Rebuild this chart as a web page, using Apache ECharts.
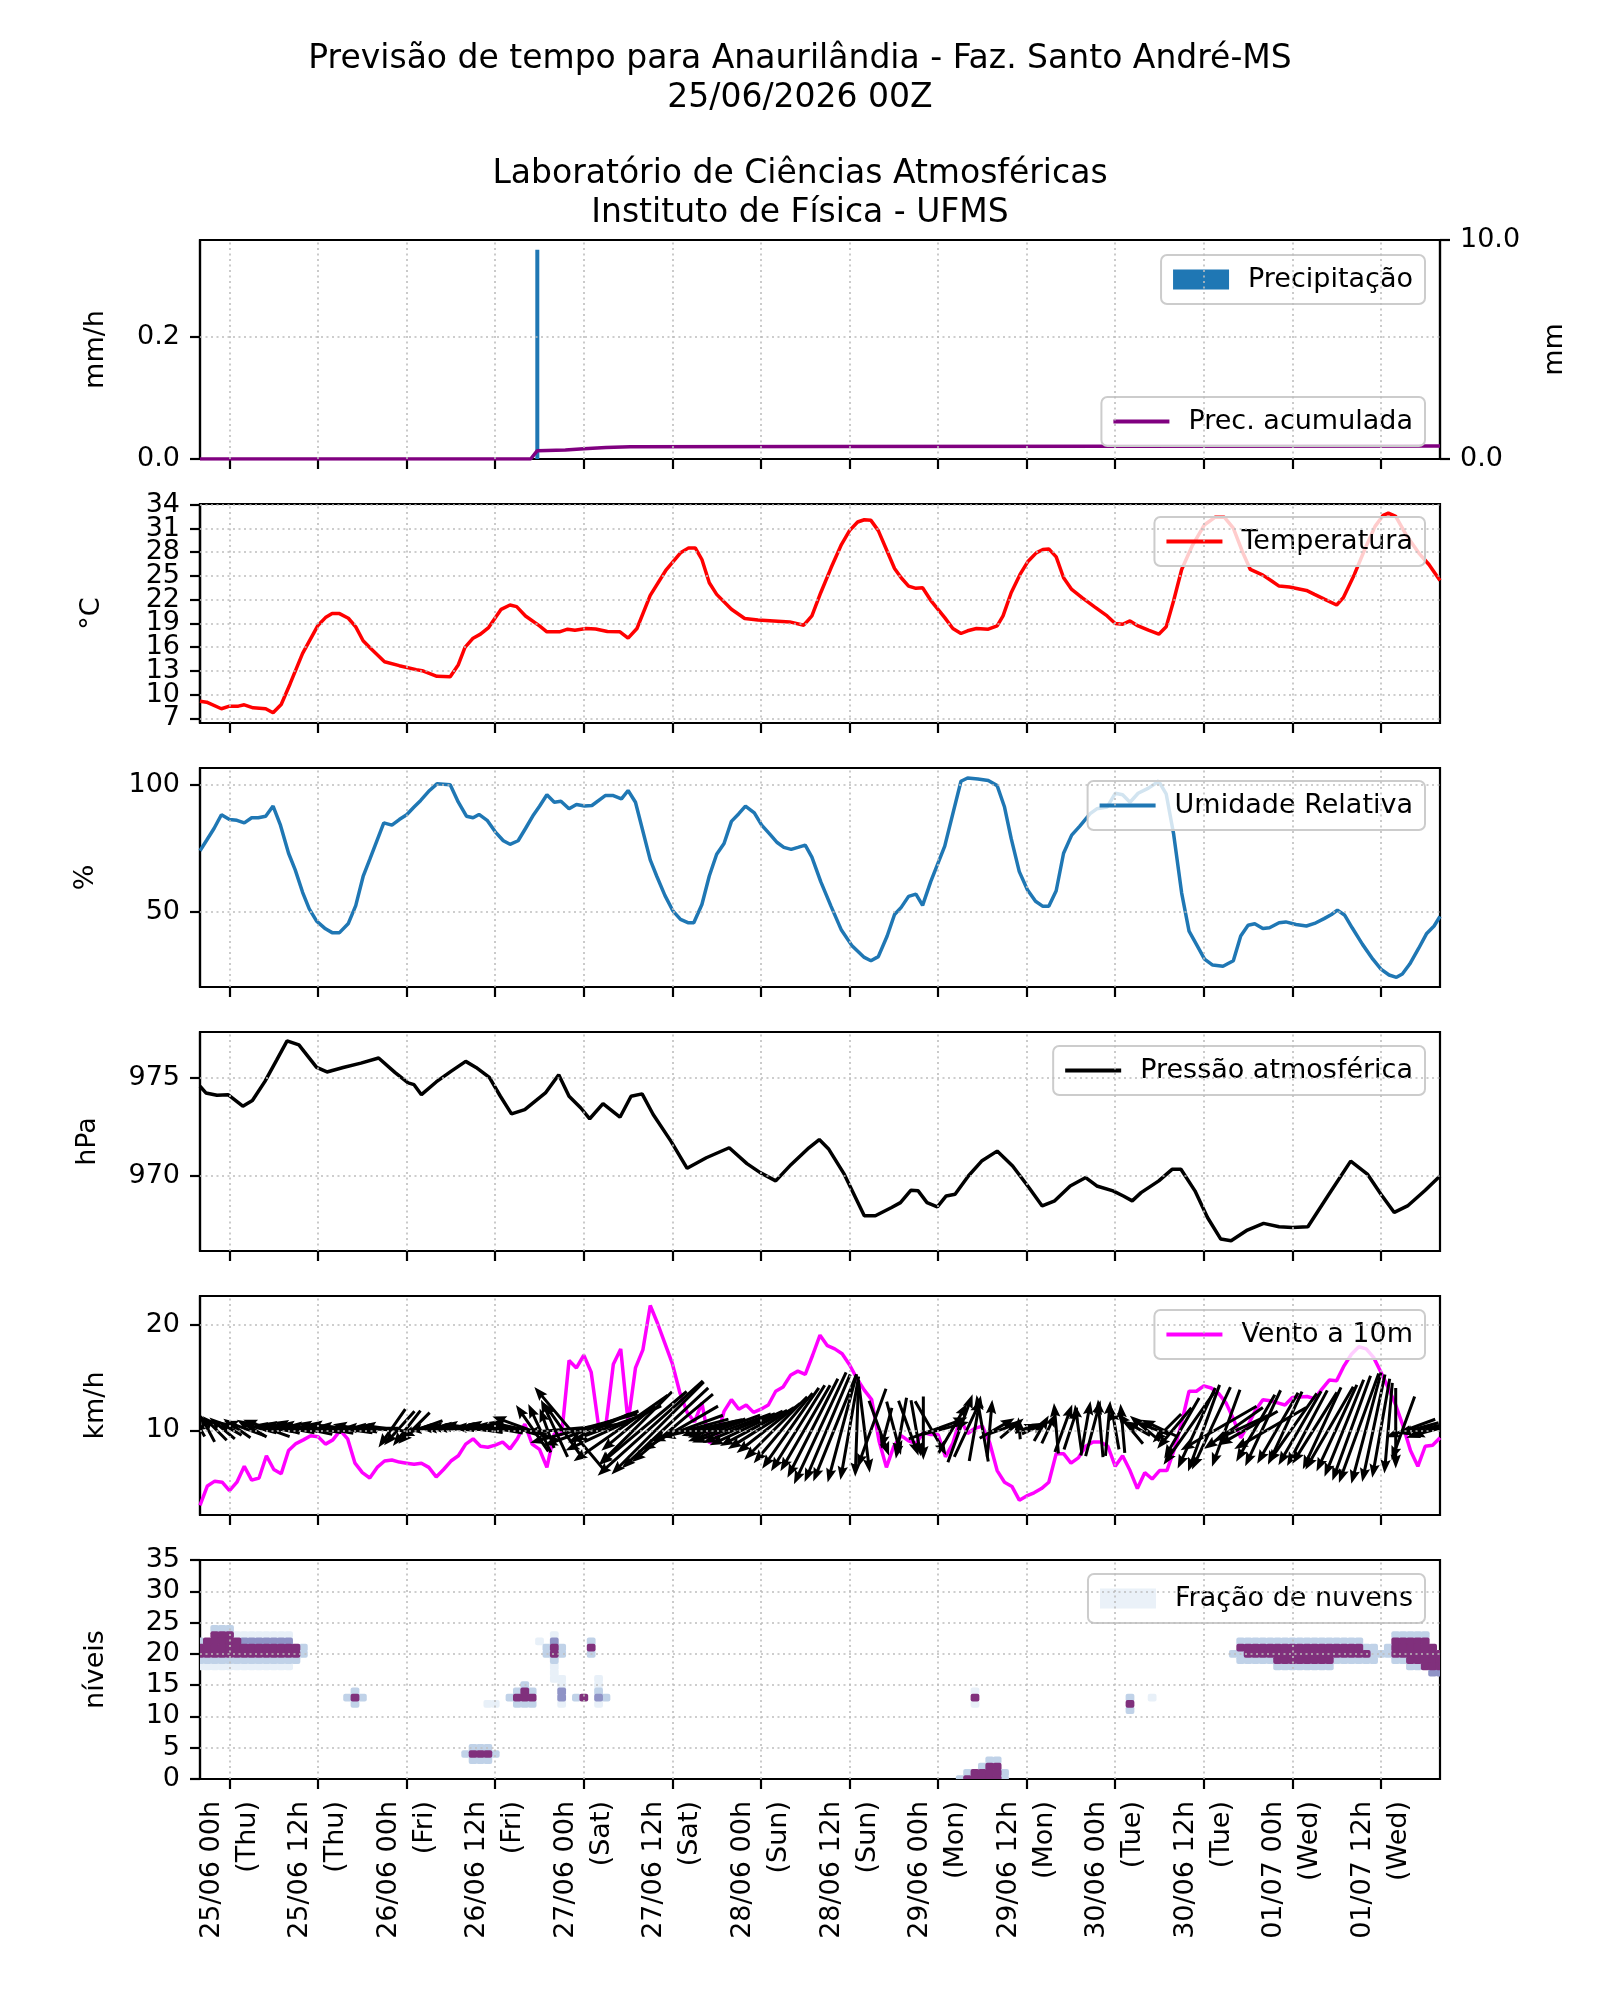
<!DOCTYPE html>
<html>
<head>
<meta charset="utf-8">
<script src="https://cdn.jsdelivr.net/npm/echarts@6/dist/echarts.min.js"></script>
<style>
  html, body { margin: 0; padding: 0; background: #fff; }
  #chart { width: 1600px; height: 2000px; }
</style>
</head>
<body>
<div id="chart"></div>
<script>
// meteograma - previsao 7 dias (horas contadas a partir de 25/06 00h)
const hourStart = -4
const hourEnd = 164

const tickHours = [0, 12, 24, 36, 48, 60, 72, 84, 96, 108, 120, 132, 144, 156]
const tickLabels = [
  '25/06 00h\n(Thu)', '25/06 12h\n(Thu)', '26/06 00h\n(Fri)', '26/06 12h\n(Fri)',
  '27/06 00h\n(Sat)', '27/06 12h\n(Sat)', '28/06 00h\n(Sun)', '28/06 12h\n(Sun)',
  '29/06 00h\n(Mon)', '29/06 12h\n(Mon)', '30/06 00h\n(Tue)', '30/06 12h\n(Tue)',
  '01/07 00h\n(Wed)', '01/07 12h\n(Wed)'
]
const tempTicks = [7, 10, 13, 16, 19, 22, 25, 28, 31, 34]

// precipitacao
const precipHours = [41.7]
const precipValues = [0.342]
const accumHours = [-4, 40.8, 41.7, 45.5, 48, 51, 54.3, 80, 120, 164]
const accumValues = [0, 0, 0.38, 0.41, 0.47, 0.52, 0.56, 0.57, 0.58, 0.59]

// temperatura
const tempHours = [-4, -3.1, -1.1, 0, 1.2, 2, 3.2, 4.9, 5.9, 7,
  8.2, 9.9, 12, 13, 13.9, 14.9, 16.1, 17.1, 18.1, 19,
  21, 23, 25.3, 26.1, 28.1, 29.9, 31, 31.9, 33, 34,
  35.1, 36.8, 38, 38.9, 40.1, 42, 43, 44.7, 45.8, 46.8,
  48.3, 49.6, 51.2, 52.9, 54, 55.2, 57, 59.1, 61.1, 62.2,
  63.1, 64, 65, 66, 68, 69.8, 71.6, 75.9, 77.8, 78.9,
  80.1, 81.5, 82.9, 84, 85.1, 86, 86.9, 87.9, 89.1, 90.1,
  91, 92, 93, 93.9, 95, 96.9, 98, 99.1, 100, 101.2,
  102.8, 104, 104.8, 105.9, 107.1, 108.2, 109.3, 110.2, 111, 112,
  113, 114.1, 115.5, 117.2, 118.9, 120, 121, 122, 123.1, 124.5,
  125.9, 126.9, 127.9, 129, 130.4, 132.1, 133.5, 134.8, 136, 137.2,
  138.3, 140, 141.1, 142.2, 143.6, 145.9, 147, 148.4, 150, 150.9,
  152.4, 153.8, 155.2, 156.3, 157, 158, 159.4, 161.1, 162.5, 164]
const tempValues = [9.16, 9.03, 8.2, 8.53, 8.53, 8.7, 8.32, 8.2, 7.7, 8.74,
  11.34, 15.2, 18.77, 19.73, 20.24, 20.24, 19.65, 18.56, 16.8, 15.96,
  14.15, 13.65, 13.15, 13.02, 12.31, 12.26, 13.78, 15.96, 17.13, 17.64,
  18.47, 20.78, 21.33, 21.12, 19.94, 18.68, 17.93, 17.93, 18.27, 18.14,
  18.35, 18.3, 17.97, 17.93, 17.13, 18.35, 22.55, 25.69, 27.92, 28.55,
  28.55, 27.08, 24.14, 22.67, 20.78, 19.61, 19.44, 19.19, 18.77, 19.94,
  22.88, 26.03, 28.97, 30.73, 31.82, 32.11, 32.03, 30.73, 28.13, 25.94,
  24.77, 23.72, 23.43, 23.51, 21.92, 19.73, 18.35, 17.72, 18.06, 18.35,
  18.27, 18.68, 19.94, 22.88, 25.19, 26.87, 27.92, 28.34, 28.42, 27.41,
  24.77, 23.3, 22.25, 21.08, 19.94, 18.98, 18.89, 19.31, 18.68, 18.14,
  17.64, 18.56, 21.83, 25.82, 28.76, 31.48, 32.41, 32.41, 31.06, 28.13,
  25.82, 25.1, 24.43, 23.72, 23.6, 23.17, 22.67, 22.04, 21.33, 22.25,
  25.19, 28.34, 31.27, 32.66, 32.95, 32.53, 30.22, 27.92, 26.45, 24.43]

// umidade relativa
const rhHours = [-4, -3.1, -2.1, -1.1, 0, 1, 2, 3, 3.9, 4.9,
  5.9, 6.9, 8, 8.9, 9.9, 10.8, 11.8, 13, 13.9, 14.9,
  16.1, 17.1, 18.1, 19, 20.9, 22, 23, 24, 25, 25.9,
  27.1, 28.1, 29.9, 31, 32.1, 33, 33.8, 34.9, 36, 37.1,
  38, 39.1, 40.1, 41.2, 42, 43, 44, 44.9, 46, 47,
  48.1, 49.1, 50.9, 52, 53.1, 54, 55, 57, 57.9, 59,
  60.1, 61.1, 62.1, 62.9, 64, 65, 66, 67, 68, 69,
  69.9, 71.1, 72.1, 73.2, 74.2, 75.1, 76.1, 77, 78, 78.9,
  80.1, 81.5, 82.9, 84.3, 86, 86.9, 87.9, 89.1, 90.1, 91,
  92, 93, 93.9, 95, 96.9, 98, 99.1, 100, 101.4, 102.8,
  104, 105, 105.9, 107, 108.1, 109.2, 110.2, 111, 112, 113,
  114.1, 115.2, 116.6, 117.5, 118.9, 120, 121, 122, 123.1, 124.5,
  125.9, 126.9, 127.9, 129, 130, 131, 132.1, 133.2, 134.6, 136,
  137, 138, 138.9, 140, 140.9, 142.2, 143.1, 144.5, 145.9, 147,
  148.3, 149.3, 150.1, 151.1, 152.1, 153.5, 154.9, 156, 157.1, 158.1,
  158.9, 159.9, 161.1, 162.2, 163.2, 164]
const rhValues = [74.1, 78.2, 82.8, 88.2, 86.3, 86.0, 85.0, 87.0, 87.0, 87.6,
  91.6, 84.1, 73.1, 66.6, 57.8, 51.3, 46.5, 43.5, 42.0, 42.0,
  45.6, 52.6, 64.0, 70.7, 85.0, 84.1, 86.3, 88.2, 91.2, 93.8,
  97.7, 100.3, 99.9, 93.1, 87.6, 87.0, 88.3, 86.0, 81.5, 78.0,
  76.6, 78.0, 82.8, 88.2, 91.5, 96.0, 93.1, 93.5, 90.5, 92.2,
  91.6, 91.8, 95.7, 95.7, 94.4, 97.7, 93.1, 70.5, 64.0, 56.5,
  50.4, 47.2, 45.9, 45.9, 53.0, 64.2, 72.7, 76.9, 85.6, 88.6,
  91.6, 88.9, 84.1, 80.6, 77.3, 75.4, 74.6, 75.4, 76.3, 71.6,
  62.0, 52.3, 43.0, 37.0, 32.3, 31.0, 32.6, 40.7, 49.1, 51.9,
  56.2, 57.1, 52.7, 62.0, 75.9, 88.6, 101.3, 102.6, 102.2, 101.6,
  99.6, 91.2, 78.9, 65.9, 58.8, 54.3, 52.3, 52.3, 58.4, 73.1,
  80.2, 83.7, 88.6, 90.5, 91.2, 96.6, 96.0, 93.1, 96.6, 98.6,
  101.3, 96.4, 80.8, 57.5, 42.6, 37.4, 31.6, 29.3, 28.8, 31.0,
  40.7, 44.9, 45.5, 43.6, 43.9, 45.9, 46.2, 45.2, 44.6, 45.6,
  47.5, 49.1, 50.8, 48.8, 43.9, 37.4, 31.6, 27.7, 25.4, 24.5,
  25.8, 29.7, 35.8, 41.7, 44.6, 48.4]

// pressao
const presHours = [-4, -3.2, -1.7, -0.2, 1.8, 3.1, 4.8, 6.4, 7.8, 9.4,
  11.8, 13.2, 15.4, 17.8, 20.2, 22.4, 24.2, 25, 26, 28,
  30, 32, 33.4, 35.2, 36.7, 38.2, 40, 42.8, 44.6, 46,
  47.6, 48.8, 50.6, 52, 52.9, 54.4, 55.9, 57.4, 59.8, 62,
  64.6, 67.7, 70.1, 71.9, 74, 76.1, 78.5, 79.9, 81.2, 83.3,
  86, 87.5, 89.7, 90.9, 92.3, 93.3, 94.5, 95.9, 97.1, 98.3,
  100.1, 101.9, 104, 106.1, 108.3, 110.1, 111.8, 113.9, 116, 117.5,
  119.7, 121.1, 122.3, 123.5, 125.9, 127.7, 128.9, 130.8, 132.5, 134.3,
  135.7, 137.9, 140.1, 142.2, 144, 146.1, 148.8, 151.9, 154.2, 156,
  157.8, 159.6, 162, 164]
const presValues = [974.58, 974.24, 974.12, 974.15, 973.56, 973.85, 974.83, 975.93, 976.9, 976.69,
  975.54, 975.31, 975.54, 975.76, 976.02, 975.29, 974.75, 974.66, 974.15, 974.8,
  975.34, 975.85, 975.54, 975.03, 974.07, 973.17, 973.39, 974.24, 975.17, 974.07,
  973.47, 972.92, 973.69, 973.27, 973.0, 974.07, 974.19, 973.14, 971.78, 970.39,
  970.93, 971.44, 970.63, 970.17, 969.75, 970.59, 971.44, 971.86, 971.36, 970.08,
  967.97, 967.97, 968.39, 968.64, 969.27, 969.24, 968.64, 968.42, 968.98, 969.07,
  970.0, 970.76, 971.27, 970.51, 969.41, 968.47, 968.73, 969.49, 969.92, 969.49,
  969.24, 968.98, 968.73, 969.15, 969.75, 970.34, 970.34, 969.24, 967.88, 966.78,
  966.69, 967.24, 967.58, 967.41, 967.37, 967.41, 968.98, 970.76, 970.08, 969.07,
  968.14, 968.47, 969.27, 970.0]

// vento a 10m (horario, de -4h a 164h): velocidade km/h e direcao da seta (graus, 0 = leste, 90 = norte)
const windSpeed = [2.9, 4.75, 5.2, 5.1,
  4.3, 5.1, 6.6, 5.3, 5.5, 7.6, 6.3, 5.9, 8.1, 8.75,
  9.1, 9.5, 9.4, 8.7, 9.1, 10.0, 9.2, 6.9, 6.0, 5.5,
  6.5, 7.1, 7.2, 7.0, 6.9, 6.8, 6.9, 6.5, 5.6, 6.3,
  7.1, 7.6, 8.7, 9.2, 8.5, 8.4, 8.6, 8.9, 8.25, 9.2,
  10.6, 8.7, 8.2, 6.5, 9.7, 9.6, 16.6, 15.9, 17.1, 15.5,
  10.4, 10.5, 16.25, 17.7, 10.75, 15.9, 17.6, 21.8, 20.1, 18.2,
  16.3, 13.6, 11.7, 10.8, 12.6, 8.8, 9.3, 11.8, 12.9, 12.0,
  12.4, 11.7, 12.0, 12.4, 13.7, 14.1, 15.2, 15.6, 15.3, 17.1,
  19.0, 18.0, 17.7, 17.25, 16.2, 14.9, 13.8, 12.9, 9.0, 6.5,
  8.5, 9.5, 9.0, 8.75, 9.8, 9.6, 9.6, 7.5, 8.8, 11.1,
  9.7, 10.2, 10.4, 8.8, 6.2, 5.1, 4.7, 3.4, 3.8, 4.1,
  4.5, 5.1, 7.8, 7.8, 6.9, 7.4, 8.5, 8.9, 8.9, 8.5,
  6.6, 7.6, 6.2, 4.5, 6.0, 5.4, 6.2, 6.2, 8.2, 10.75,
  13.7, 13.7, 14.2, 14.0, 13.5, 12.6, 11.1, 9.3, 10.5, 11.9,
  12.9, 12.8, 12.6, 12.4, 13.1, 13.15, 13.2, 13.0, 13.9, 14.75,
  14.7, 16.1, 17.2, 17.9, 17.7, 16.9, 15.5, 14.0, 12.4, 10.4,
  8.1, 6.6, 8.5, 8.6, 9.3]
const windDir = [120, 118, 135, 140,
  150, 145, 160, 150, 165, 160, 170, 165, 170, 175,
  168, 172, 175, 170, 178, 172, 175, 170, 178, 175,
  180, 172, 235, 228, 232, 225, 200, 185, 178, 180,
  175, 178, 175, 172, 178, 175, 170, 175, 172, 168,
  160, 125, 115, 110, 115, 125, 130, 185, 195, 200,
  205, 200, 205, 215, 220, 225, 220, 222, 225, 223,
  220, 210, 200, 195, 192, 195, 198, 200, 200, 202,
  205, 208, 212, 218, 225, 230, 235, 238, 240, 243,
  245, 247, 248, 255, 260, 268, 277, 250, 290, 255,
  285, 260, 290, 280, 270, 300, 20, 15, 60, 70,
  65, 80, 100, 85, 30, 20, 40, 95, 20, 25,
  60, 65, 95, 70, 72, 98, 80, 75, 95, 85,
  100, 95, 130, 150, 140, 160, 155, 225, 230, 240,
  235, 245, 250, 245, 210, 250, 215, 205, 210, 240,
  245, 210, 240, 245, 235, 240, 242, 238, 245, 240,
  245, 248, 250, 250, 255, 258, 260, 265, 270, 250,
  200, 195, 190, 200, 195]

// fracao de nuvens: faixas [nivel, hora inicial, hora final, fracao]
const cloudRuns = [
  [18, -4, 8, 0.12], [19, -4, 9, 0.35], [20, -4, 9, 0.9], [21, -4, 9, 0.9],
  [22, -3, 1, 0.85], [22, 2, 8, 0.5], [23, -2, 0, 0.8], [24, -2, 0, 0.3],
  [23, 1, 8, 0.15], [20, 10, 10, 0.3], [21, 10, 10, 0.3], [22, -4, -4, 0.3],
  [13, 17, 17, 0.8], [12, 17, 17, 0.25], [14, 17, 17, 0.25], [13, 16, 16, 0.25], [13, 18, 18, 0.25],
  [4, 33, 35, 0.8], [3, 33, 35, 0.3], [5, 33, 35, 0.3], [4, 32, 32, 0.3], [4, 36, 36, 0.3],
  [12, 35, 36, 0.15],
  [13, 39, 41, 0.75], [14, 40, 40, 0.75], [12, 39, 41, 0.3], [14, 39, 39, 0.3], [14, 41, 41, 0.3],
  [15, 40, 40, 0.3], [13, 38, 38, 0.3],
  [20, 44, 44, 0.8], [21, 44, 44, 0.85], [22, 44, 44, 0.6], [23, 44, 44, 0.2], [19, 44, 44, 0.3],
  [20, 43, 43, 0.3], [21, 43, 43, 0.3], [20, 45, 45, 0.3], [21, 45, 45, 0.3],
  [18, 44, 44, 0.15], [17, 44, 44, 0.12], [16, 44, 45, 0.1], [22, 42, 42, 0.12],
  [14, 45, 45, 0.5], [13, 45, 45, 0.45], [15, 45, 45, 0.2], [12, 45, 45, 0.15],
  [13, 48, 48, 0.75], [13, 47, 47, 0.25],
  [21, 49, 49, 0.75], [20, 49, 49, 0.3], [22, 49, 49, 0.3],
  [13, 50, 50, 0.6], [14, 50, 50, 0.35], [12, 50, 50, 0.2], [15, 50, 50, 0.15], [16, 50, 50, 0.1], [13, 51, 51, 0.25],
  [13, 101, 101, 0.8], [12, 101, 101, 0.2], [14, 101, 101, 0.2],
  [0, 100, 104, 0.85], [1, 101, 104, 0.85], [2, 103, 104, 0.7], [3, 103, 104, 0.25],
  [1, 100, 100, 0.3], [0, 99, 99, 0.3], [0, 105, 105, 0.3], [1, 105, 105, 0.3], [2, 102, 102, 0.3],
  [12, 122, 122, 0.8], [13, 122, 122, 0.3], [11, 122, 122, 0.25], [13, 125, 125, 0.15],
  [21, 137, 153, 0.85], [20, 138, 154, 0.85], [19, 142, 149, 0.8], [22, 137, 139, 0.4],
  [22, 140, 153, 0.25], [19, 137, 141, 0.3], [19, 150, 155, 0.3], [18, 142, 149, 0.3],
  [20, 155, 156, 0.25], [21, 154, 155, 0.35], [20, 136, 137, 0.3],
  [22, 158, 162, 0.7], [21, 158, 163, 0.9], [20, 158, 164, 0.9], [19, 160, 164, 0.85],
  [18, 162, 164, 0.85], [17, 163, 164, 0.6], [23, 158, 162, 0.3], [19, 158, 159, 0.35],
  [18, 160, 161, 0.3], [21, 157, 157, 0.3], [20, 157, 157, 0.3]
]

// ---------- montagem ----------
const panelTops = [240, 504, 768, 1032, 1296, 1560]
const panelHeight = 219
const FONT = 'DejaVu Sans'
const gridColor = '#bdbdbd'
const arrowBase = 10.2
const arrowScale = 6.5

function zip(xs, ys) {
  return xs.map((x, i) => [x, ys[i]])
}

const windData = windSpeed.map((v, i) => [hourStart + i, v])
const arrowData = windSpeed.map((v, i) => [hourStart + i, v, windDir[i]])

const cloudCells = []
cloudRuns.forEach(r => {
  for (let h = r[1]; h <= r[2]; h++) cloudCells.push([h, r[0], r[3]])
})
cloudCells.sort((a, b) => a[2] - b[2])

function gridLines(yVals) {
  return {
    silent: true,
    symbol: ['none', 'none'],
    animation: false,
    label: { show: false },
    emphasis: { disabled: true },
    lineStyle: { color: gridColor, width: 1.6, type: [2, 3.5] },
    data: tickHours.map(h => ({ xAxis: h })).concat(yVals.map(v => ({ yAxis: v })))
  }
}

function xAxisFor(i) {
  return {
    type: 'value', gridIndex: i, min: hourStart, max: hourEnd,
    axisLine: { show: true, onZero: false, lineStyle: { color: '#000', width: 2.2 } },
    axisTick: { show: true, length: 10, customValues: tickHours, lineStyle: { color: '#000', width: 2.2 } },
    splitLine: { show: false },
    axisLabel: i === 5 ? {
      show: true, customValues: tickHours, rotate: 90, margin: 22, interval: 0,
      fontSize: 27, lineHeight: 36, color: '#000', fontFamily: FONT, hideOverlap: false,
      formatter: v => tickLabels[tickHours.indexOf(Math.round(v))] || ''
    } : { show: false }
  }
}

function yAxisFor(i, min, max, ticks, name, gap, fmt, pos, labelTicks) {
  return {
    type: 'value', gridIndex: i, min: min, max: max, position: pos || 'left',
    name: name, nameLocation: 'middle', nameRotate: 90, nameGap: gap,
    nameTextStyle: { fontSize: 27, color: '#000', fontFamily: FONT },
    axisLine: { show: true, onZero: false, lineStyle: { color: '#000', width: 2.2 } },
    axisTick: { show: ticks.length > 0, length: 10, customValues: ticks, lineStyle: { color: '#000', width: 2.2 } },
    axisLabel: {
      show: true, customValues: labelTicks || ticks, margin: 20, fontSize: 27,
      color: '#000', fontFamily: FONT, interval: 0,
      showMinLabel: true, showMaxLabel: true, hideOverlap: false,
      formatter: fmt || (v => String(Math.round(v)))
    },
    splitLine: { show: false }
  }
}

function legendFor(name, top, color, iconH) {
  return {
    data: [{ name: name, icon: 'rect', itemStyle: { color: color, borderWidth: 0 } }],
    right: 175, top: top, orient: 'vertical',
    itemWidth: 56, itemHeight: iconH,
    padding: [11, 12, 11, 12],
    backgroundColor: 'rgba(255,255,255,0.8)',
    borderColor: '#cccccc', borderWidth: 2, borderRadius: 6,
    selectedMode: false,
    textStyle: { fontSize: 27, color: '#000', fontFamily: FONT, padding: [0, 0, 0, 14] }
  }
}

function renderArrow(params, api) {
  const h = api.value(0)
  const spd = api.value(1)
  const ang = api.value(2) * Math.PI / 180
  const c = api.coord([h, arrowBase])
  const L = spd * arrowScale
  const dx = Math.cos(ang), dy = -Math.sin(ang)
  const nx = -dy, ny = dx
  const tail = [c[0] - dx * L / 2, c[1] - dy * L / 2]
  const tip = [c[0] + dx * L / 2, c[1] + dy * L / 2]
  const hl = Math.min(14, L * 0.7)
  const sw = 1.5, hw = 5.2
  const base = [tip[0] - dx * hl, tip[1] - dy * hl]
  const notch = [tip[0] - dx * hl * 0.88, tip[1] - dy * hl * 0.88]
  return {
    type: 'polygon',
    shape: {
      points: [
        [tail[0] + nx * sw, tail[1] + ny * sw],
        [notch[0] + nx * sw, notch[1] + ny * sw],
        [base[0] + nx * hw, base[1] + ny * hw],
        tip,
        [base[0] - nx * hw, base[1] - ny * hw],
        [notch[0] - nx * sw, notch[1] - ny * sw],
        [tail[0] - nx * sw, tail[1] - ny * sw]
      ]
    },
    style: { fill: '#000' }
  }
}

function renderCloud(params, api) {
  const h = api.value(0), lv = api.value(1), f = api.value(2)
  const p0 = api.coord([h - 0.5, lv + 0.5])
  const p1 = api.coord([h + 0.5, lv - 0.5])
  const color = f >= 0.7 ? '#80307c' : f >= 0.45 ? '#8f93c6' : f >= 0.25 ? '#c0d2e8' : '#e8f0f8'
  return {
    type: 'rect',
    shape: { x: p0[0] - 0.7, y: p0[1] - 0.7, width: p1[0] - p0[0] + 1.4, height: p1[1] - p0[1] + 1.4, r: 2 },
    style: { fill: color }
  }
}

const chart = echarts.init(document.getElementById('chart'), null, { width: 1600, height: 2000 })

const option = {
  animation: false,
  backgroundColor: '#fff',
  textStyle: { fontFamily: FONT, color: '#000' },
  title: [
    {
      text: 'Previsão de tempo para Anaurilândia - Faz. Santo André-MS\n25/06/2026 00Z',
      left: 'center', top: 35,
      textStyle: { fontSize: 33, fontWeight: 'normal', color: '#000', lineHeight: 39, fontFamily: FONT }
    },
    {
      text: 'Laboratório de Ciências Atmosféricas\nInstituto de Física - UFMS',
      left: 'center', top: 150,
      textStyle: { fontSize: 33, fontWeight: 'normal', color: '#000', lineHeight: 39, fontFamily: FONT }
    }
  ],
  grid: panelTops.map(t => ({
    left: 200, width: 1240, top: t, height: panelHeight,
    show: true, borderColor: '#000', borderWidth: 2.2, backgroundColor: 'transparent',
    containLabel: false, outerBoundsMode: 'none'
  })),
  xAxis: [0, 1, 2, 3, 4, 5].map(xAxisFor),
  yAxis: [
    yAxisFor(0, 0, 0.358, [0, 0.2], 'mm/h', 91, v => v.toFixed(1)),
    yAxisFor(0, 0, 10, [0, 10], 'mm', 101, v => v.toFixed(1), 'right'),
    // temperatura: rotulos alternados em dois eixos sobrepostos para nao serem ocultados
    yAxisFor(1, 6.4, 34.1, tempTicks, '°C', 95, null, 'left', tempTicks.filter((v, k) => k % 2 === 0)),
    yAxisFor(2, 20.7, 106.5, [50, 100], '%', 101),
    yAxisFor(3, 966.17, 977.35, [970, 975], 'hPa', 99),
    yAxisFor(4, 2.0, 22.7, [10, 20], 'km/h', 91),
    yAxisFor(5, 0, 35, [0, 5, 10, 15, 20, 25, 30, 35], 'níveis', 91),
    yAxisFor(1, 6.4, 34.1, [], '', 95, null, 'left', tempTicks.filter((v, k) => k % 2 === 1))
  ],
  legend: [
    legendFor('Precipitação', 255, '#1f77b4', 20),
    legendFor('Prec. acumulada', 397, '#800080', 4),
    legendFor('Temperatura', 517, '#ff0000', 4),
    legendFor('Umidade Relativa', 781, '#1f77b4', 4),
    legendFor('Pressão atmosférica', 1046, '#000000', 4),
    legendFor('Vento a 10m', 1310, '#ff00ff', 4),
    legendFor('Fração de nuvens', 1574, '#eaf1f8', 20)
  ],
  series: [
    {
      name: 'Precipitação', type: 'bar', xAxisIndex: 0, yAxisIndex: 0,
      data: zip(precipHours, precipValues), barWidth: 4,
      itemStyle: { color: '#1f77b4' }, markLine: gridLines([0.2])
    },
    {
      name: 'Prec. acumulada', type: 'line', xAxisIndex: 0, yAxisIndex: 1,
      data: zip(accumHours, accumValues), symbol: 'none',
      lineStyle: { color: '#800080', width: 3.5 }, itemStyle: { color: '#800080' }
    },
    {
      name: 'Temperatura', type: 'line', xAxisIndex: 1, yAxisIndex: 2,
      data: zip(tempHours, tempValues), symbol: 'none',
      lineStyle: { color: '#ff0000', width: 3.5 }, itemStyle: { color: '#ff0000' },
      markLine: gridLines(tempTicks)
    },
    {
      name: 'Umidade Relativa', type: 'line', xAxisIndex: 2, yAxisIndex: 3,
      data: zip(rhHours, rhValues), symbol: 'none',
      lineStyle: { color: '#1f77b4', width: 3.5 }, itemStyle: { color: '#1f77b4' },
      markLine: gridLines([50, 100])
    },
    {
      name: 'Pressão atmosférica', type: 'line', xAxisIndex: 3, yAxisIndex: 4,
      data: zip(presHours, presValues), symbol: 'none',
      lineStyle: { color: '#000', width: 3.5 }, itemStyle: { color: '#000' },
      markLine: gridLines([970, 975])
    },
    {
      name: 'Vento a 10m', type: 'line', xAxisIndex: 4, yAxisIndex: 5,
      data: windData, symbol: 'none', z: 3,
      lineStyle: { color: '#ff00ff', width: 3.5 }, itemStyle: { color: '#ff00ff' },
      markLine: gridLines([10, 20])
    },
    {
      name: 'vetores', type: 'custom', xAxisIndex: 4, yAxisIndex: 5,
      data: arrowData, renderItem: renderArrow, clip: true, z: 4,
      encode: { x: 0, y: 1 }, silent: true
    },
    {
      name: 'Fração de nuvens', type: 'custom', xAxisIndex: 5, yAxisIndex: 6,
      data: cloudCells, renderItem: renderCloud, clip: true,
      encode: { x: 0, y: 1 }, silent: true, itemStyle: { color: '#eaf1f8' },
      markLine: gridLines([5, 10, 15, 20, 25, 30])
    }
  ]
}

chart.setOption(option)
</script>
</body>
</html>
